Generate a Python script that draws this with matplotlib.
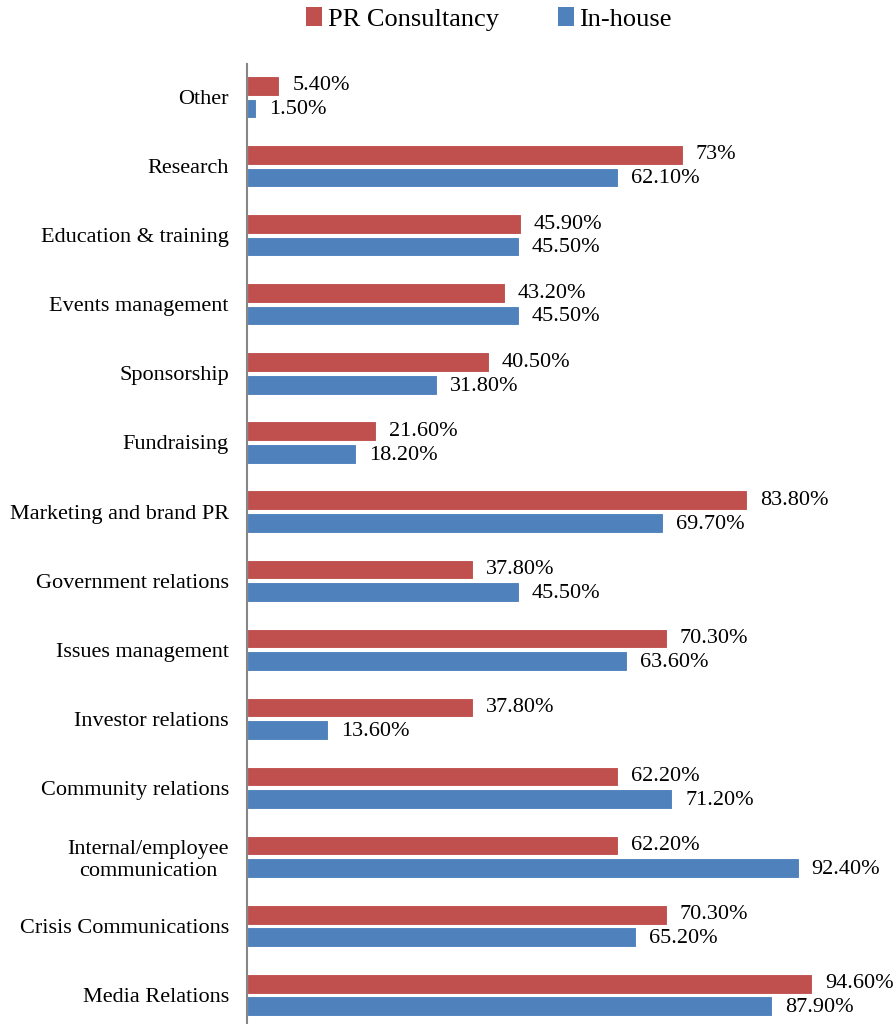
import numpy as np
import matplotlib.pyplot as plt
from matplotlib.patches import Patch

plt.rcParams['font.family'] = ['Liberation Serif', 'DejaVu Serif']

# bottom to top
categories = ['Media Relations', 'Crisis Communications', 'Internal/employee\ncommunication',
              'Community relations', 'Investor relations', 'Issues management',
              'Government relations', 'Marketing and brand PR', 'Fundraising',
              'Sponsorship', 'Events management', 'Education & training',
              'Research', 'Other']
consultancy = [94.6, 70.3, 62.2, 62.2, 37.8, 70.3, 37.8, 83.8, 21.6, 40.5, 43.2, 45.9, 73.0, 5.4]
inhouse = [87.9, 65.2, 92.4, 71.2, 13.6, 63.6, 45.5, 69.7, 18.2, 31.8, 45.5, 45.5, 62.1, 1.5]

red = '#C0504D'
blue = '#4F81BD'


def fmt(v):
    return f'{v:g}%' if v == int(v) else f'{v:.2f}%'


fig = plt.figure(figsize=(8.94, 10.24), dpi=100)
ax = fig.add_axes([247 / 894, 0, 647 / 894, 960 / 1024])

y = np.arange(len(categories))
h = 0.285
off = 0.163
ax.barh(y + off, consultancy, height=h, color=red, edgecolor='white', linewidth=0.8)
ax.barh(y - off, inhouse, height=h, color=blue, edgecolor='white', linewidth=0.8)

for yi, v in zip(y, consultancy):
    ax.text(v + 2.2, yi + off, fmt(v), va='center', ha='left', fontsize=16)
for yi, v in zip(y, inhouse):
    ax.text(v + 2.2, yi - off - 0.02, fmt(v), va='center', ha='left', fontsize=16)

ax.set_xlim(0, 108.4)
ax.set_ylim(-0.42, 13.48)
ax.set_yticks(y)
ax.set_yticklabels(categories, fontsize=16, multialignment='center')
ax.tick_params(axis='y', length=0, pad=13)
ax.set_xticks([])
for s in ['top', 'right', 'bottom']:
    ax.spines[s].set_visible(False)
ax.spines['left'].set_color('#868686')
ax.spines['left'].set_linewidth(1.5)

handles = [Patch(facecolor=red, label='PR Consultancy'),
           Patch(facecolor=blue, label='In-house')]
fig.legend(handles=handles, loc='center', bbox_to_anchor=(489 / 894, 1 - 19 / 1024),
           ncol=2, frameon=False, fontsize=19, handlelength=0.6, handleheight=0.75,
           handletextpad=0.2, columnspacing=2.25)

fig.savefig('out.png', dpi=100)
